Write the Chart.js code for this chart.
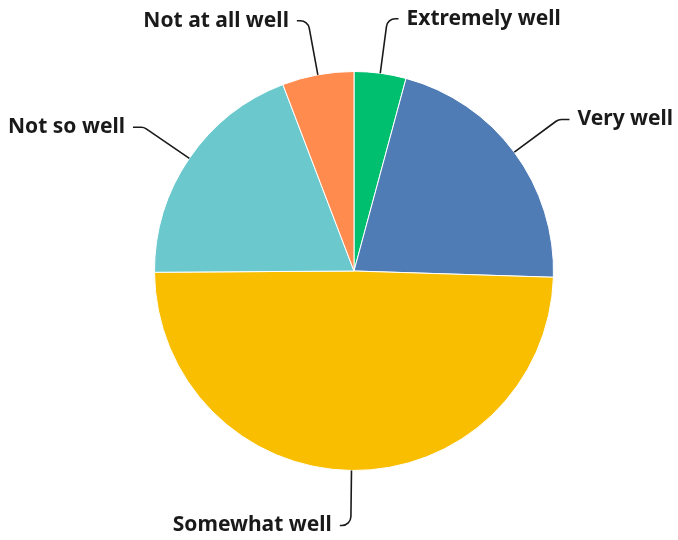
<!DOCTYPE html>
<html>
<head>
<meta charset="utf-8">
<script src="https://cdn.jsdelivr.net/npm/chart.js@4"></script>
<style>
body{margin:0;background:#fff;}
canvas{display:block;}
</style>
</head>
<body>
<canvas id="pieChart" width="678" height="540"></canvas>
<script>

// ================================
// Chart Data
// ================================

const answers=["Extremely well","Very well","Somewhat well","Not so well","Not at all well"];

const shares=[4.2,21.3,49.4,19.3,5.8];

const sliceColors=["#00bf6f","#507cb6","#f9be00","#6bc8cd","#ff8b4f"];

// ================================
// Leader Line Labels
// ================================

const leaderLabels={

id:"leaderLabels",

afterDatasetsDraw(chart){

    const ctx=chart.ctx;

    const arcs=chart.getDatasetMeta(0).data;

    ctx.save();

    ctx.font="bold 21px 'Noto Sans', sans-serif";
    ctx.fillStyle="#1a1a1a";
    ctx.strokeStyle="#1a1a1a";
    ctx.lineWidth=1.6;
    ctx.textBaseline="middle";

    arcs.forEach(function(arc,i){

        const mid=(arc.startAngle+arc.endAngle)/2;
        const cos=Math.cos(mid);
        const sin=Math.sin(mid);

        // start on the rim, elbow a bit outside
        const sx=arc.x+cos*arc.outerRadius;
        const sy=arc.y+sin*arc.outerRadius;
        const ex=arc.x+cos*(arc.outerRadius+55);
        const ey=arc.y+sin*(arc.outerRadius+55);

        const right=cos>=0;
        const dir=right?1:-1;
        const tx=ex+dir*11;

        ctx.beginPath();
        ctx.moveTo(sx,sy);
        ctx.arcTo(ex,ey,tx,ey,9);
        ctx.lineTo(tx,ey);
        ctx.stroke();

        ctx.textAlign=right?"left":"right";
        ctx.fillText(answers[i],tx+dir*8,ey);

    });

    ctx.restore();

}

};

// ================================
// Pie Chart
// ================================

new Chart(

document.getElementById("pieChart"),

{

type:"pie",

data:{

labels:answers,

datasets:[{

data:shares,

backgroundColor:sliceColors,

borderColor:"#ffffff",

borderWidth:1

}]

},

options:{

responsive:false,

animation:false,

layout:{

padding:{left:154,right:124,top:71,bottom:69}

},

plugins:{

legend:{display:false},

tooltip:{enabled:false}

}

},

plugins:[leaderLabels]

}

);

</script>
</body>
</html>
